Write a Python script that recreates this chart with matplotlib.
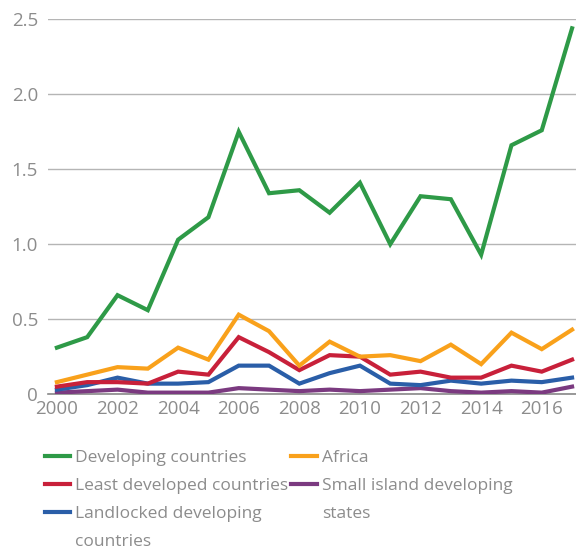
import matplotlib
matplotlib.use("Agg")
import matplotlib.pyplot as plt
from matplotlib.lines import Line2D

years = list(range(2000, 2018))
developing = [0.31, 0.38, 0.66, 0.56, 1.03, 1.18, 1.75, 1.34, 1.36, 1.21, 1.41, 1.00, 1.32, 1.30, 0.93, 1.66, 1.76, 2.44]
africa = [0.08, 0.13, 0.18, 0.17, 0.31, 0.23, 0.53, 0.42, 0.19, 0.35, 0.25, 0.26, 0.22, 0.33, 0.20, 0.41, 0.30, 0.43]
least = [0.05, 0.08, 0.08, 0.07, 0.15, 0.13, 0.38, 0.28, 0.16, 0.26, 0.25, 0.13, 0.15, 0.11, 0.11, 0.19, 0.15, 0.23]
landlocked = [0.03, 0.06, 0.11, 0.07, 0.07, 0.08, 0.19, 0.19, 0.07, 0.14, 0.19, 0.07, 0.06, 0.09, 0.07, 0.09, 0.08, 0.11]
sids = [0.01, 0.02, 0.03, 0.01, 0.01, 0.01, 0.04, 0.03, 0.02, 0.03, 0.02, 0.03, 0.04, 0.02, 0.01, 0.02, 0.01, 0.05]

label_dev = "Developing countries"
label_ldc = "Least developed countries"
label_lldc = ["Landlocked developing", "countries"]
label_afr = "Africa"
label_sids = ["Small island developing", "states"]
colors = {"dev": "#2e9a47", "afr": "#f9a11b", "ldc": "#c8203a",
          "lldc": "#2a5ea8", "sids": "#7b3a80"}
yticks = [0, 0.5, 1.0, 1.5, 2.0, 2.5]
ytick_labels = ["0", "0.5", "1.0", "1.5", "2.0", "2.5"]
xticks = list(range(2000, 2017, 2))

plt.rcParams['font.family'] = ['Open Sans', 'DejaVu Sans']
txt = "#8c8c8c"

fig = plt.figure(figsize=(5.76, 5.52), dpi=100)
ax = fig.add_axes([0.083, 0.286, 0.917, 0.679])

lw = 3.0
h_sids, = ax.plot(years, sids, color=colors["sids"], lw=lw, solid_joinstyle="miter")
h_lldc, = ax.plot(years, landlocked, color=colors["lldc"], lw=lw, solid_joinstyle="miter")
h_ldc, = ax.plot(years, least, color=colors["ldc"], lw=lw, solid_joinstyle="miter")
h_afr, = ax.plot(years, africa, color=colors["afr"], lw=lw, solid_joinstyle="miter")
h_dev, = ax.plot(years, developing, color=colors["dev"], lw=lw, solid_joinstyle="miter")

ax.set_xlim(1999.7, 2017.13)
ax.set_ylim(0, 2.5)
ax.set_yticks(yticks)
ax.set_yticklabels(ytick_labels)
ax.set_xticks(xticks)
ax.set_xticklabels([str(x) for x in xticks])
ax.tick_params(axis="both", length=0, labelsize=13.5, labelcolor=txt)
ax.tick_params(axis="y", pad=7)
ax.tick_params(axis="x", pad=4)
ax.grid(axis="y", color="#b5b5b5", lw=1)
ax.set_axisbelow(True)
for s in ["top", "right", "left"]:
    ax.spines[s].set_visible(False)
ax.spines["bottom"].set_color("#888888")
ax.spines["bottom"].set_linewidth(1.2)
ax.spines["bottom"].set_zorder(1)

blank1 = Line2D([], [], color="none")
blank2 = Line2D([], [], color="none")
handles = [h_dev, h_ldc, h_lldc, blank1, h_afr, h_sids, blank2]
labels = [label_dev, label_ldc, label_lldc[0], label_lldc[1],
          label_afr, label_sids[0], label_sids[1]]
leg = fig.legend(handles, labels, ncol=2, loc="upper left",
                 bbox_to_anchor=(0.078, 0.185), frameon=False,
                 fontsize=12.5, labelcolor=txt, handlelength=1.45,
                 handletextpad=0.3, columnspacing=0.17, labelspacing=0.68,
                 borderaxespad=0, borderpad=0)
for line in leg.get_lines():
    line.set_linewidth(3)

fig.savefig("out.png", dpi=100)
